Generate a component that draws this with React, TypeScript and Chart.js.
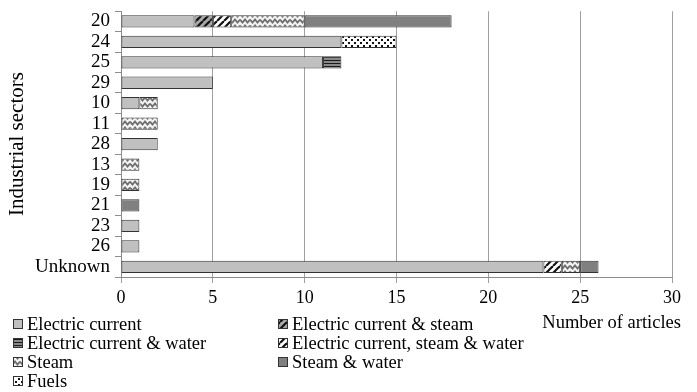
import React, { useEffect, useRef } from "react";
import { Chart, registerables } from "chart.js";

Chart.register(...registerables);

const categories = ["20", "24", "25", "29", "10", "11", "28", "13", "19", "21", "23", "26", "Unknown"];
const electricCurrent = [4, 12, 11, 5, 1, 0, 2, 0, 0, 0, 1, 1, 23];
const electricSteam = [1, 0, 0, 0, 0, 0, 0, 0, 0, 0, 0, 0, 0];
const electricWater = [0, 0, 1, 0, 0, 0, 0, 0, 0, 0, 0, 0, 0];
const electricSteamWater = [1, 0, 0, 0, 0, 0, 0, 0, 0, 0, 0, 0, 1];
const steam = [4, 0, 0, 0, 1, 2, 0, 1, 1, 0, 0, 0, 1];
const steamWater = [8, 0, 0, 0, 0, 0, 0, 0, 0, 1, 0, 0, 1];
const fuels = [0, 3, 0, 0, 0, 0, 0, 0, 0, 0, 0, 0, 0];
const xTicks = [0, 5, 10, 15, 20, 25, 30];

const FONT = "'Liberation Serif', 'Times New Roman', serif";

function makePattern(kind: string): CanvasPattern | string {
  const c = document.createElement("canvas");
  const g = c.getContext("2d")!;
  if (kind === "hstripe") {
    c.width = 6; c.height = 3;
    g.fillStyle = "#8a8a8a"; g.fillRect(0, 0, 6, 3);
    g.fillStyle = "#1a1a1a"; g.fillRect(0, 0, 6, 1);
  } else if (kind === "diagGray" || kind === "diagWhite") {
    c.width = 7; c.height = 7;
    g.fillStyle = kind === "diagGray" ? "#a8a8a8" : "#ffffff";
    g.fillRect(0, 0, 7, 7);
    g.strokeStyle = "#111"; g.lineWidth = 2.2;
    for (const o of [-7, 0, 7]) {
      g.beginPath(); g.moveTo(o, 7); g.lineTo(o + 7, 0); g.stroke();
    }
  } else if (kind === "zigzag") {
    c.width = 10; c.height = 6;
    g.fillStyle = "#f2f2f2"; g.fillRect(0, 0, 10, 6);
    g.strokeStyle = "#6e6e6e"; g.lineWidth = 1.8;
    g.beginPath(); g.moveTo(0, 1.5); g.lineTo(2.5, 4.5); g.lineTo(5, 1.5); g.lineTo(7.5, 4.5); g.lineTo(10, 1.5); g.stroke();
  } else if (kind === "dots") {
    c.width = 6; c.height = 6;
    g.fillStyle = "#ffffff"; g.fillRect(0, 0, 6, 6);
    g.fillStyle = "#111"; g.fillRect(0, 0, 2, 2); g.fillRect(3, 3, 2, 2);
  }
  return g.createPattern(c, "repeat") || "#ccc";
}

export default function App() {
  const ref = useRef<HTMLCanvasElement>(null);
  useEffect(() => {
    const fills = {
      ec: "#c0c0c0",
      es: makePattern("diagGray"),
      ew: makePattern("hstripe"),
      esw: makePattern("diagWhite"),
      st: makePattern("zigzag"),
      sw: "#808080",
      fu: makePattern("dots"),
    };
    const nz = (a: number[]) => a.map((v) => (v === 0 ? null : v));
    const series = [
      { label: "Electric current", data: electricCurrent, fill: fills.ec },
      { label: "Electric current & steam", data: electricSteam, fill: fills.es },
      { label: "Electric current & water", data: electricWater, fill: fills.ew },
      { label: "Electric current, steam & water", data: electricSteamWater, fill: fills.esw },
      { label: "Steam", data: steam, fill: fills.st },
      { label: "Steam & water", data: steamWater, fill: fills.sw },
      { label: "Fuels", data: fuels, fill: fills.fu },
    ];
    const legendPlugin = {
      id: "customLegend",
      afterDraw(chart: any) {
        const ctx = chart.ctx as CanvasRenderingContext2D;
        ctx.save();
        ctx.font = `18.5px ${FONT}`;
        ctx.textBaseline = "middle";
        const cols = [13, 278];
        const rows = [324, 343, 362, 381];
        series.forEach((s, i) => {
          const col = i % 2;
          const row = Math.floor(i / 2);
          const bx = cols[col];
          const by = rows[row];
          ctx.fillStyle = s.fill as any;
          ctx.fillRect(bx, by - 5, 10, 10);
          ctx.strokeStyle = "#333";
          ctx.lineWidth = 1;
          ctx.strokeRect(bx + 0.5, by - 4.5, 9, 9);
          ctx.fillStyle = "#000";
          ctx.textAlign = "left";
          ctx.fillText(s.label, bx + 14, by + 1);
        });
        ctx.textAlign = "right";
        ctx.fillText("Number of articles", 681, 323);
        ctx.restore();
      },
    };
    const chart = new Chart(ref.current!, {
      type: "bar",
      data: {
        labels: categories,
        datasets: series.map((s) => ({
          label: s.label,
          data: nz(s.data) as any,
          backgroundColor: s.fill as any,
          borderColor: "#333333",
          borderWidth: 1,
          borderSkipped: false,
          barPercentage: 1,
          categoryPercentage: 0.6,
        })),
      },
      options: {
        indexAxis: "y",
        animation: false,
        responsive: false,
        layout: { padding: { top: 0, right: 25, left: 0, bottom: 0 } },
        plugins: { legend: { display: false }, tooltip: { enabled: false } },
        scales: {
          x: {
            stacked: true,
            min: 0,
            max: 30,
            afterFit: (s: any) => { s.height = 115; },
            afterBuildTicks: (s: any) => { s.ticks = xTicks.map((v) => ({ value: v })); },
            ticks: { color: "#000", font: { family: FONT, size: 18 }, padding: 4 },
            grid: { color: "#a0a0a0", tickLength: 6, lineWidth: 1 },
            border: { color: "#8c8c8c" },
          },
          y: {
            stacked: true,
            afterFit: (s: any) => { s.width = 121; },
            ticks: { color: "#000", font: { family: FONT, size: 19, lineHeight: 0.65 }, padding: 5, autoSkip: false },
            grid: { drawOnChartArea: false, offset: true, tickLength: 6, color: "#8c8c8c" },
            border: { color: "#8c8c8c" },
            title: {
              display: true,
              text: "Industrial sectors",
              color: "#000",
              font: { family: FONT, size: 21 },
              padding: { top: 5, bottom: 0 },
            },
          },
        },
      },
      plugins: [legendPlugin],
    });
    return () => chart.destroy();
  }, []);
  return (
    <div style={{ position: "fixed", left: 0, top: 0, width: 697, height: 392, background: "#fff" }}>
      <canvas ref={ref} width={697} height={392} style={{ width: 697, height: 392 }} />
    </div>
  );
}
